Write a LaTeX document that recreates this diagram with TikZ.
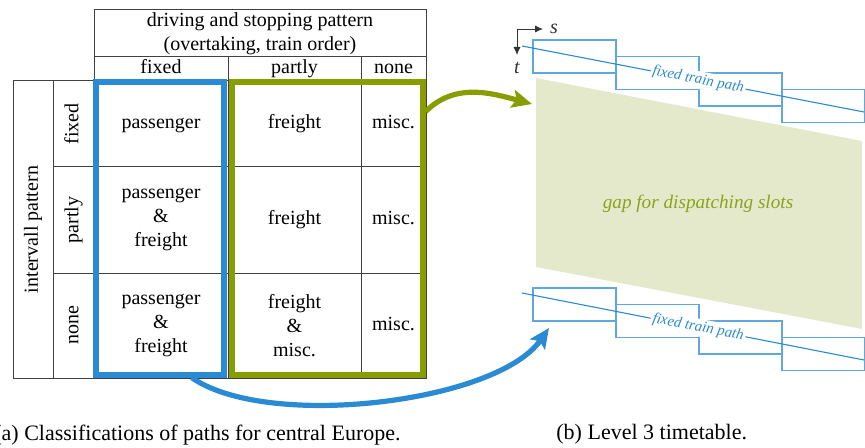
\documentclass[tikz,border=0pt]{standalone}
\usepackage{fontspec}
\setmainfont{Liberation Serif}
\usepackage{graphicx}
\usetikzlibrary{positioning,arrows.meta}
\definecolor{pathblue}{HTML}{2A8AD4}
\definecolor{slotgreen}{HTML}{879D00}
\definecolor{gapfill}{HTML}{E5E9CB}
\definecolor{gaptext}{HTML}{8AA21E}
\begin{document}
\begin{tikzpicture}[x=0.5pt, y=-0.5pt, font=\fontsize{10}{12}\selectfont,
  cell/.style 2 args={draw=black!75, line width=0.5pt, inner sep=0pt, outer sep=0pt, align=center, minimum width=#1, minimum height=#2},
  frame/.style={draw=#1, line width=2.6pt, inner sep=0pt, minimum height=146.5pt},
  bigarrow/.style={line width=2.6pt, -{Stealth[length=10pt, width=9pt, inset=2pt]}},
  slot/.style={draw=pathblue!75, line width=0.55pt},
  trainline/.style={draw=pathblue, line width=0.55pt},
  pathlabel/.style={font=\fontsize{7.5}{9}\selectfont\itshape, text=pathblue, fill=white, inner sep=1pt, sloped, pos=0.515},
  caption/.style={font=\fontsize{11}{13}\selectfont, inner sep=0pt}]
\useasboundingbox (0,0) rectangle (865,448);

% classification table
\node (head) [cell={166pt}{23.5pt}, anchor=north west] at (94,10) {driving and stopping pattern\\(overtaking, train order)};
\node (cfixed) [cell={67pt}{11pt}, anchor=north west] at (head.south west) {\strut fixed};
\node (cpartly) [cell={66.5pt}{11pt}, right=0pt of cfixed] {\strut partly};
\node (cnone) [cell={32.5pt}{11pt}, right=0pt of cpartly] {\strut none};

\node (p1) [cell={67pt}{43pt}, anchor=north west] at (cfixed.south west) {\strut passenger};
\node (f1) [cell={66.5pt}{43pt}, right=0pt of p1] {\strut freight};
\node (m1) [cell={32.5pt}{43pt}, right=0pt of f1] {\strut misc.};
\node (p2) [cell={67pt}{53pt}, below=0pt of p1] {passenger\\\&\\freight};
\node (f2) [cell={66.5pt}{53pt}, right=0pt of p2] {\strut freight};
\node (m2) [cell={32.5pt}{53pt}, right=0pt of f2] {\strut misc.};
\node (p3) [cell={67pt}{52.5pt}, below=0pt of p2] {passenger\\\&\\freight};
\node (f3) [cell={66.5pt}{52.5pt}, right=0pt of p3] {freight\\\&\\misc.};
\node (m3) [cell={32.5pt}{52.5pt}, right=0pt of f3] {\strut misc.};

\node (rfixed) [cell={20.5pt}{43pt}, left=0pt of p1] {\rotatebox{90}{\strut fixed}};
\node (rpartly) [cell={20.5pt}{53pt}, left=0pt of p2] {\rotatebox{90}{\strut partly}};
\node (rnone) [cell={20.5pt}{52.5pt}, left=0pt of p3] {\rotatebox{90}{\strut none}};
\node (ipat) [cell={20pt}{148.5pt}, anchor=north east] at (rfixed.north west) {\rotatebox{90}{\strut intervall pattern}};

\node (passframe) [frame=pathblue, minimum width=64pt] at (160,228.5) {};
\node (freightframe) [frame=slotgreen, minimum width=95.5pt] at (327.5,228.5) {};

% level 3 timetable
\coordinate (orig) at (517,29);
\coordinate (saxis) at (543,29);
\coordinate (taxis) at (517,55);
\draw[black!80, -{Latex[length=4pt, width=3.5pt]}] (orig) -- (saxis) node[right, font=\itshape] {s};
\draw[black!80, -{Latex[length=4pt, width=3.5pt]}] (orig) -- (taxis) node[below, font=\itshape] {t};

\fill[gapfill] (536,78) -- (862,141) -- (862,329) -- (536,267) -- cycle;
\node (gaplabel) [font=\fontsize{9.6}{11}\selectfont\itshape, text=gaptext] at (698,204) {gap for dispatching slots};
\coordinate (gapin) at (532,104);
\coordinate (slotin) at (549,328);

\foreach \y in {40,288} {
  \foreach \i in {0,...,3}
    \draw[slot] ({533+83*\i},{\y+16.5*\i}) rectangle ++(83,33);
}
\coordinate (upA) at (522,46);
\coordinate (upB) at (864,112);
\coordinate (lowA) at (522,293);
\coordinate (lowB) at (864,360);
\draw[trainline] (upA) -- node[pathlabel] {fixed train path} (upB);
\draw[trainline] (lowA) -- node[pathlabel] {fixed train path} (lowB);

% links
\draw[bigarrow, slotgreen] (freightframe.50) to[out=45, in=165] (gapin);
\draw[bigarrow, pathblue] (passframe.-78) to[out=-35, in=-125, looseness=0.65] (slotin);

% captions
\node (capa) [caption, anchor=base east] at (401,440) {(a) Classifications of paths for central Europe.};
\node (capb) [caption, anchor=base west] at (556,439) {(b) Level 3 timetable.};
\end{tikzpicture}
\end{document}
